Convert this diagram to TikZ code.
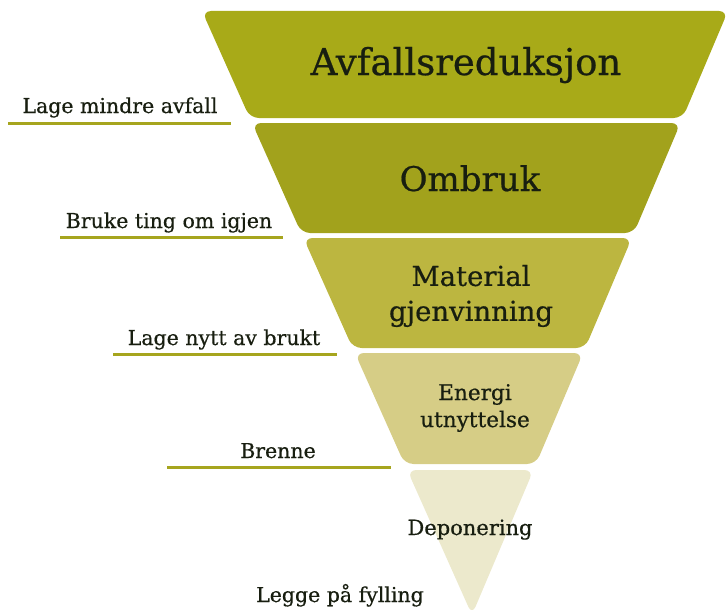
\documentclass[tikz,border=0pt]{standalone}
\usepackage{fontspec}
\setmainfont{DejaVu Serif}[FakeBold=0.6]
\definecolor{tierA}{RGB}{168,170,24}
\definecolor{tierB}{RGB}{162,162,28}
\definecolor{tierC}{RGB}{188,182,64}
\definecolor{tierD}{RGB}{214,205,134}
\definecolor{tierE}{RGB}{236,233,204}
\definecolor{rule}{RGB}{166,165,30}
\definecolor{ink}{RGB}{24,30,16}
\begin{document}
\begin{tikzpicture}[x=1pt,y=-1pt]
  \tikzset{
  tier/.style={rounded corners=9pt},
  tiertext/.style={ink,inner sep=0pt,align=center},
  lbl/.style={ink,inner sep=0pt,anchor=base,font=\fontsize{20.5}{24}\selectfont},
  underline/.style={rule,line width=3pt},
  }
  \useasboundingbox (0,0) rectangle (728,610);
  % the tiers of the funnel
  \fill[tier,tierA] (202,11) -- (728,11) -- (682.7,118) -- (249.8,118) -- cycle;
  \fill[tier,tierB] (252.1,123) -- (680.5,123) -- (633.9,233) -- (301.2,233) -- cycle;
  \fill[tier,tierC] (303.5,238) -- (631.8,238) -- (585.2,348) -- (352.6,348) -- cycle;
  \fill[tier,tierD] (354.9,353) -- (583.1,353) -- (536,464) -- (404.5,464) -- cycle;
  \fill[tier,tierE] (407.2,470) -- (533.5,470) -- (472,615) -- cycle;

  % the texts in the tiers
  \node[tiertext,anchor=base,font=\fontsize{37}{42}\selectfont] (reduksjon) at (466,75) {Avfallsreduksjon};
  \node[tiertext,anchor=base,font=\fontsize{34}{40}\selectfont] (ombruk) at (470,191) {Ombruk};
  \node[tiertext,font=\fontsize{27.5}{35}\selectfont] (material) at (471,296) {Material\\gjenvinning};
  \node[tiertext,font=\fontsize{21.6}{27}\selectfont] (energi) at (475,408) {Energi\\utnyttelse};
  \node[tiertext,anchor=base,font=\fontsize{21}{25}\selectfont] (deponering) at (470,535) {Deponering};

  % the labels on the left
  \node[lbl] (mindre) at (120,113) {Lage mindre avfall};
  \node[lbl] (igjen) at (169,228) {Bruke ting om igjen};
  \node[lbl] (nytt) at (224,345) {Lage nytt av brukt};
  \node[lbl] (brenne) at (278,458) {Brenne};
  \node[lbl] (fylling) at (340,602) {Legge på fylling};

  % the lines under the labels
  \coordinate (u1a) at (8,123);   \coordinate (u1b) at (231,123);
  \coordinate (u2a) at (60,237);  \coordinate (u2b) at (283,237);
  \coordinate (u3a) at (113,354); \coordinate (u3b) at (337,354);
  \coordinate (u4a) at (167,467); \coordinate (u4b) at (391,467);
  \draw[underline] (u1a) -- (u1b);
  \draw[underline] (u2a) -- (u2b);
  \draw[underline] (u3a) -- (u3b);
  \draw[underline] (u4a) -- (u4b);
\end{tikzpicture}
\end{document}
